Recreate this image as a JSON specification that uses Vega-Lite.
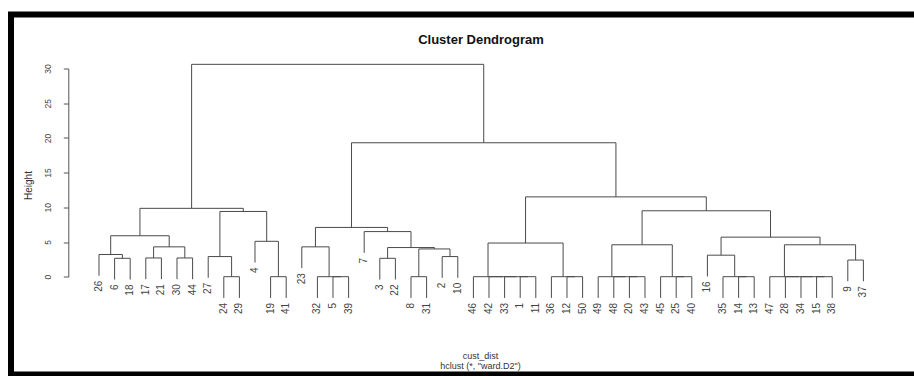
{
  "$schema": "https://vega.github.io/schema/vega-lite/v6.json",
  "width": 906,
  "height": 360,
  "autosize": {"type": "none"},
  "padding": {"left": 11, "top": 14.5, "right": -3, "bottom": 1.5},
  "background": "white",
  "title": {"text": "Cluster Dendrogram", "fontSize": 13, "fontWeight": "bold", "font": "Liberation Sans", "color": "#111111", "anchor": "middle", "frame": "group", "baseline": "middle", "offset": -38.5, "dx": 17},
  "datasets": {
    "nodes": [
      {"x1": 2, "h1": -0.41, "x2": 3, "h2": -0.41, "h": 2.65},
      {"x1": 1, "h1": 0.14, "x2": 2.5, "h2": 2.65, "h": 3.2},
      {"x1": 4, "h1": -0.36, "x2": 5, "h2": -0.36, "h": 2.7},
      {"x1": 6, "h1": -0.36, "x2": 7, "h2": -0.36, "h": 2.7},
      {"x1": 4.5, "h1": 2.7, "x2": 6.5, "h2": 2.7, "h": 4.3},
      {"x1": 1.75, "h1": 3.2, "x2": 5.5, "h2": 4.3, "h": 5.9},
      {"x1": 9, "h1": -3.06, "x2": 10, "h2": -3.06, "h": 0},
      {"x1": 8, "h1": -0.16, "x2": 9.5, "h2": 0, "h": 2.9},
      {"x1": 12, "h1": -3.06, "x2": 13, "h2": -3.06, "h": 0},
      {"x1": 11, "h1": 2.04, "x2": 12.5, "h2": 0, "h": 5.1},
      {"x1": 8.75, "h1": 2.9, "x2": 11.75, "h2": 5.1, "h": 9.4},
      {"x1": 3.625, "h1": 5.9, "x2": 10.25, "h2": 9.4, "h": 9.85},
      {"x1": 16, "h1": -3.06, "x2": 17, "h2": -3.06, "h": 0},
      {"x1": 15, "h1": -3.06, "x2": 16.5, "h2": 0, "h": 0},
      {"x1": 14, "h1": 1.24, "x2": 15.75, "h2": 0, "h": 4.3},
      {"x1": 19, "h1": -0.41, "x2": 20, "h2": -0.41, "h": 2.65},
      {"x1": 21, "h1": -3.06, "x2": 22, "h2": -3.06, "h": 0},
      {"x1": 23, "h1": -0.16, "x2": 24, "h2": -0.16, "h": 2.9},
      {"x1": 21.5, "h1": 0, "x2": 23.5, "h2": 2.9, "h": 4.0},
      {"x1": 19.5, "h1": 2.65, "x2": 22.5, "h2": 4.0, "h": 4.2},
      {"x1": 18, "h1": 3.44, "x2": 21, "h2": 4.2, "h": 6.5},
      {"x1": 14.875, "h1": 4.3, "x2": 19.5, "h2": 6.5, "h": 7.1},
      {"x1": 28, "h1": -3.06, "x2": 29, "h2": -3.06, "h": 0},
      {"x1": 27, "h1": -3.06, "x2": 28.5, "h2": 0, "h": 0},
      {"x1": 26, "h1": -3.06, "x2": 27.75, "h2": 0, "h": 0},
      {"x1": 25, "h1": -3.06, "x2": 26.875, "h2": 0, "h": 0},
      {"x1": 31, "h1": -3.06, "x2": 32, "h2": -3.06, "h": 0},
      {"x1": 30, "h1": -3.06, "x2": 31.5, "h2": 0, "h": 0},
      {"x1": 25.9375, "h1": 0, "x2": 30.75, "h2": 0, "h": 4.85},
      {"x1": 35, "h1": -3.06, "x2": 36, "h2": -3.06, "h": 0},
      {"x1": 34, "h1": -3.06, "x2": 35.5, "h2": 0, "h": 0},
      {"x1": 33, "h1": -3.06, "x2": 34.75, "h2": 0, "h": 0},
      {"x1": 38, "h1": -3.06, "x2": 39, "h2": -3.06, "h": 0},
      {"x1": 37, "h1": -3.06, "x2": 38.5, "h2": 0, "h": 0},
      {"x1": 33.875, "h1": 0, "x2": 37.75, "h2": 0, "h": 4.6},
      {"x1": 42, "h1": -3.06, "x2": 43, "h2": -3.06, "h": 0},
      {"x1": 41, "h1": -3.06, "x2": 42.5, "h2": 0, "h": 0},
      {"x1": 40, "h1": 0.04, "x2": 41.75, "h2": 0, "h": 3.1},
      {"x1": 47, "h1": -3.06, "x2": 48, "h2": -3.06, "h": 0},
      {"x1": 46, "h1": -3.06, "x2": 47.5, "h2": 0, "h": 0},
      {"x1": 45, "h1": -3.06, "x2": 46.75, "h2": 0, "h": 0},
      {"x1": 44, "h1": -3.06, "x2": 45.875, "h2": 0, "h": 0},
      {"x1": 49, "h1": -0.66, "x2": 50, "h2": -0.66, "h": 2.4},
      {"x1": 44.9375, "h1": 0, "x2": 49.5, "h2": 2.4, "h": 4.6},
      {"x1": 40.875, "h1": 3.1, "x2": 47.21875, "h2": 4.6, "h": 5.7},
      {"x1": 35.8125, "h1": 4.6, "x2": 44.046875, "h2": 5.7, "h": 9.5},
      {"x1": 28.34375, "h1": 4.85, "x2": 39.9296875, "h2": 9.5, "h": 11.5},
      {"x1": 17.1875, "h1": 7.1, "x2": 34.13671875, "h2": 11.5, "h": 19.3},
      {"x1": 6.9375, "h1": 9.85, "x2": 25.662109375, "h2": 19.3, "h": 30.6}
    ],
    "leaves": [
      {"pos": 1, "label": "26", "bottom": 0.14},
      {"pos": 2, "label": "6", "bottom": -0.41},
      {"pos": 3, "label": "18", "bottom": -0.41},
      {"pos": 4, "label": "17", "bottom": -0.36},
      {"pos": 5, "label": "21", "bottom": -0.36},
      {"pos": 6, "label": "30", "bottom": -0.36},
      {"pos": 7, "label": "44", "bottom": -0.36},
      {"pos": 8, "label": "27", "bottom": -0.16},
      {"pos": 9, "label": "24", "bottom": -3.06},
      {"pos": 10, "label": "29", "bottom": -3.06},
      {"pos": 11, "label": "4", "bottom": 2.04},
      {"pos": 12, "label": "19", "bottom": -3.06},
      {"pos": 13, "label": "41", "bottom": -3.06},
      {"pos": 14, "label": "23", "bottom": 1.24},
      {"pos": 15, "label": "32", "bottom": -3.06},
      {"pos": 16, "label": "5", "bottom": -3.06},
      {"pos": 17, "label": "39", "bottom": -3.06},
      {"pos": 18, "label": "7", "bottom": 3.44},
      {"pos": 19, "label": "3", "bottom": -0.41},
      {"pos": 20, "label": "22", "bottom": -0.41},
      {"pos": 21, "label": "8", "bottom": -3.06},
      {"pos": 22, "label": "31", "bottom": -3.06},
      {"pos": 23, "label": "2", "bottom": -0.16},
      {"pos": 24, "label": "10", "bottom": -0.16},
      {"pos": 25, "label": "46", "bottom": -3.06},
      {"pos": 26, "label": "42", "bottom": -3.06},
      {"pos": 27, "label": "33", "bottom": -3.06},
      {"pos": 28, "label": "1", "bottom": -3.06},
      {"pos": 29, "label": "11", "bottom": -3.06},
      {"pos": 30, "label": "36", "bottom": -3.06},
      {"pos": 31, "label": "12", "bottom": -3.06},
      {"pos": 32, "label": "50", "bottom": -3.06},
      {"pos": 33, "label": "49", "bottom": -3.06},
      {"pos": 34, "label": "48", "bottom": -3.06},
      {"pos": 35, "label": "20", "bottom": -3.06},
      {"pos": 36, "label": "43", "bottom": -3.06},
      {"pos": 37, "label": "45", "bottom": -3.06},
      {"pos": 38, "label": "25", "bottom": -3.06},
      {"pos": 39, "label": "40", "bottom": -3.06},
      {"pos": 40, "label": "16", "bottom": 0.04},
      {"pos": 41, "label": "35", "bottom": -3.06},
      {"pos": 42, "label": "14", "bottom": -3.06},
      {"pos": 43, "label": "13", "bottom": -3.06},
      {"pos": 44, "label": "47", "bottom": -3.06},
      {"pos": 45, "label": "28", "bottom": -3.06},
      {"pos": 46, "label": "34", "bottom": -3.06},
      {"pos": 47, "label": "15", "bottom": -3.06},
      {"pos": 48, "label": "38", "bottom": -3.06},
      {"pos": 49, "label": "9", "bottom": -0.66},
      {"pos": 50, "label": "37", "bottom": -0.66}
    ]
  },
  "layer": [
    {
      "data": {"name": "nodes"},
      "mark": {"type": "rule", "color": "#4a4a4a", "strokeWidth": 1},
      "encoding": {
        "x": {"field": "x1", "type": "quantitative",
          "scale": {"domain": [-4.641, 53.436], "nice": false, "zero": false},
          "axis": {"title": ["cust_dist", "hclust (*, \"ward.D2\")"], "labels": false, "ticks": false, "domain": false, "grid": false,
            "titleFontSize": 9, "titleFontWeight": "normal", "titleColor": "#333333", "titleLineHeight": 9.5,
            "titleBaseline": "top", "titleAlign": "center", "titleX": 469, "titleY": -23}},
        "x2": {"field": "x2"},
        "y": {"field": "h", "type": "quantitative",
          "scale": {"domain": [0, 30], "range": [262.2, 54.0], "nice": false, "zero": false},
          "axis": {"title": "Height", "values": [0, 5, 10, 15, 20, 25, 30], "offset": -57.3, "grid": false,
            "labelAngle": -90, "labelAlign": "center", "labelBaseline": "middle", "labelFontSize": 8.5, "labelColor": "#444444", "labelPadding": 16,
            "tickSize": 5, "tickColor": "#555555", "domainColor": "#555555",
            "titleFontSize": 10, "titleFontWeight": "normal", "titleColor": "#333333",
            "titleX": -40.3, "titleY": 170.5, "titleAngle": -90, "titleAlign": "center", "titleBaseline": "middle"}}
      }
    },
    {
      "data": {"name": "nodes"},
      "mark": {"type": "rule", "color": "#4a4a4a", "strokeWidth": 1},
      "encoding": {
        "x": {"field": "x1", "type": "quantitative", "title": ["cust_dist", "hclust (*, \"ward.D2\")"]},
        "y": {"field": "h1", "type": "quantitative", "title": "Height"},
        "y2": {"field": "h"}
      }
    },
    {
      "data": {"name": "nodes"},
      "mark": {"type": "rule", "color": "#4a4a4a", "strokeWidth": 1},
      "encoding": {
        "x": {"field": "x2", "type": "quantitative", "title": ["cust_dist", "hclust (*, \"ward.D2\")"]},
        "y": {"field": "h2", "type": "quantitative", "title": "Height"},
        "y2": {"field": "h"}
      }
    },
    {
      "data": {"name": "leaves"},
      "mark": {"type": "text", "angle": 270, "align": "right", "baseline": "middle", "dx": -5, "fontSize": 10, "color": "#444444"},
      "encoding": {
        "x": {"field": "pos", "type": "quantitative", "title": ["cust_dist", "hclust (*, \"ward.D2\")"]},
        "y": {"field": "bottom", "type": "quantitative", "title": "Height"},
        "text": {"field": "label"}
      }
    }
  ],
  "config": {
    "view": {"stroke": "#000000", "strokeWidth": 6},
    "font": "Liberation Sans"
  }
}
